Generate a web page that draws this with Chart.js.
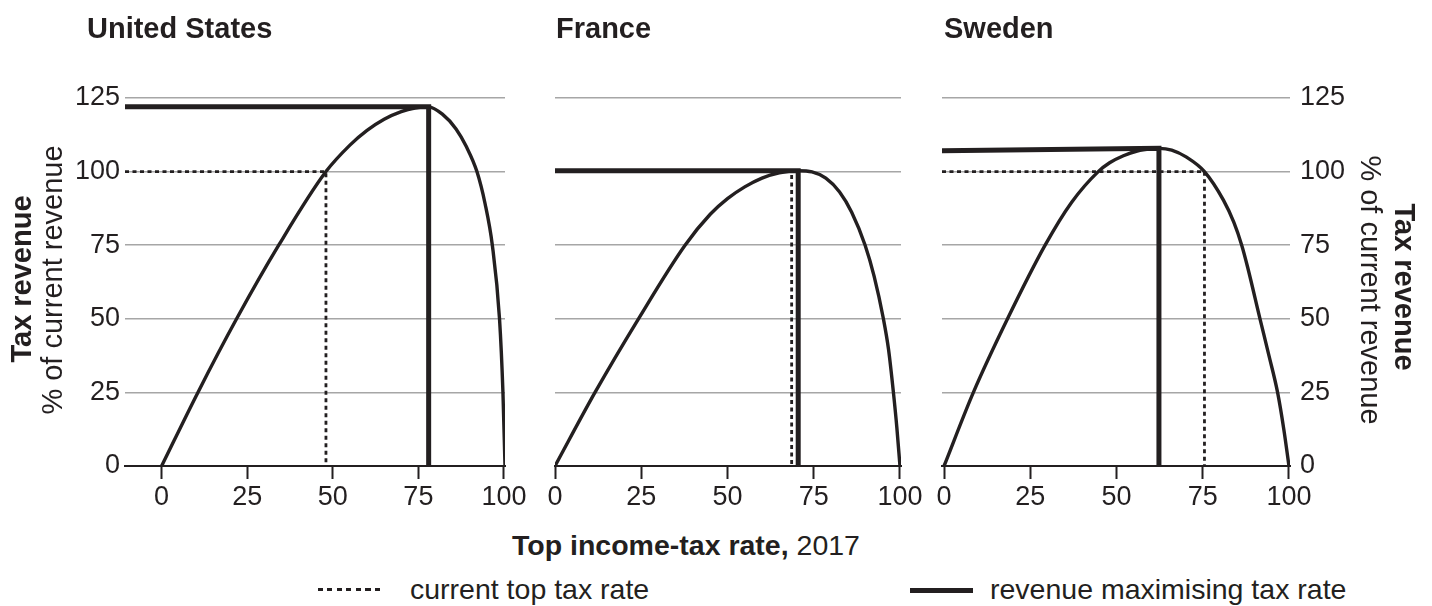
<!DOCTYPE html>
<html><head><meta charset="utf-8">
<script src="https://cdn.jsdelivr.net/npm/chart.js@4.4.1/dist/chart.umd.min.js"></script>
<style>
html,body{margin:0;padding:0;background:#fff;}
body{width:1432px;height:606px;position:relative;overflow:hidden;font-family:"Liberation Sans",Arial,sans-serif;color:#231f20;}
canvas{position:absolute;top:0;}
.t{position:absolute;white-space:nowrap;line-height:1;}
.b{font-weight:bold;}
.rot{position:absolute;white-space:nowrap;line-height:1;font-size:29px;}
</style></head><body>
<canvas id="us" width="540" height="526" style="left:0px"></canvas>
<canvas id="fr" width="400" height="526" style="left:540px"></canvas>
<canvas id="se" width="502" height="526" style="left:930px"></canvas>

<div class="t b" style="left:87px;top:14px;font-size:29px;">United States</div>
<div class="t b" style="left:556px;top:14px;font-size:29px;">France</div>
<div class="t b" style="left:944px;top:14px;font-size:29px;">Sweden</div>

<div class="rot b" style="left:21px;top:279px;transform:translate(-50%,-50%) rotate(-90deg);">Tax revenue</div>
<div class="rot" style="left:52px;top:280px;transform:translate(-50%,-50%) rotate(-90deg);">% of current revenue</div>
<div class="rot b" style="left:1404px;top:287px;transform:translate(-50%,-50%) rotate(90deg);">Tax revenue</div>
<div class="rot" style="left:1370px;top:290px;transform:translate(-50%,-50%) rotate(90deg);">% of current revenue</div>

<div class="t" style="left:512px;top:531px;font-size:28.5px;"><b>Top income-tax rate,</b> 2017</div>

<div style="position:absolute;left:318px;top:588px;width:64px;height:3px;background:repeating-linear-gradient(to right,#231f20 0px,#231f20 5px,transparent 5px,transparent 9.5px);"></div>
<div class="t" style="left:410px;top:575px;font-size:28.5px;">current top tax rate</div>
<div style="position:absolute;left:910px;top:588px;width:63px;height:5px;background:#231f20;"></div>
<div class="t" style="left:990px;top:575px;font-size:28.5px;">revenue maximising tax rate</div>

<script>
// ---- data ----
const xTicks = [0, 25, 50, 75, 100];
const yTicks = [0, 25, 50, 75, 100, 125];

const usRate    = [0, 10.6, 21.9, 34.2, 48, 55, 60, 65, 70, 74, 78, 82, 86, 89, 92.1, 94.5, 96.6, 98.7, 99.7, 100.3];
const usRevenue = [0, 25, 50, 75, 100, 109, 114, 117.8, 120.4, 121.6, 122, 119.5, 114.5, 108.5, 100, 89, 75, 50, 25, 0];
const usCurrentRate = 48;
const usMaxRate = 78;
const usMaxRevenue = [122, 122];

const frRate    = [0, 11.6, 24.2, 37.7, 45, 50, 55, 60, 65, 70.5, 74.5, 78.5, 82.5, 86, 89.9, 92.5, 95.2, 96.7, 98.1, 99.1, 100];
const frRevenue = [0, 25, 50, 75, 85.5, 90.8, 94.8, 97.8, 99.6, 100.3, 99.9, 97.8, 93.1, 86.2, 75, 64.5, 50, 39.5, 25, 13, 0];
const frCurrentRate = 68.6;
const frMaxRate = 70.5;
const frMaxRevenue = [100.3, 100.3];

const seRate    = [0, 8.5, 18.4, 29.3, 37, 44.7, 48, 52, 56, 60, 62.3, 66, 70.3, 75.5, 81, 84, 86.3, 88, 91.6, 94.2, 96.7, 98.5, 100];
const seRevenue = [0, 25, 50, 75, 89.6, 100, 103, 105.4, 107, 107.75, 107.9, 107.3, 104.9, 100, 90.3, 82.8, 75, 67.6, 50, 37.5, 25, 12.5, 0];
const seCurrentRate = 75.5;
const seMaxRate = 62.3;
const seMaxRevenue = [107.1, 107.9];

const currentRevenue = 100;

// ---- drawing ----
const INK = '#231f20';
const GRID = '#a6a6a6';
const FONT = {family: '"Liberation Sans", Arial, sans-serif', size: 27};

function makeChart(id, cfg) {
  const curve = cfg.rate.map((x, i) => ({x: x, y: cfg.revenue[i]}));
  const maxLine = [{x: cfg.xMin, y: cfg.maxRev[0]}, {x: cfg.maxRate, y: cfg.maxRev[1]}, {x: cfg.maxRate, y: 0}];
  const curLine = [{x: cfg.xMin, y: currentRevenue}, {x: cfg.current, y: currentRevenue}, {x: cfg.current, y: 0}];
  const yScale = {
    type: 'linear', min: 0, max: 125, position: cfg.yPos,
    afterBuildTicks: s => { s.ticks = yTicks.map(v => ({value: v})); },
    afterFit: s => { s.width = cfg.yWidth; s.paddingTop = 0; s.paddingBottom = 0; },
    grid: {
      drawTicks: false,
      color: c => (c.tick && c.tick.value === 0) ? 'rgba(0,0,0,0)' : GRID,
      lineWidth: 1.5
    },
    border: {display: false},
    ticks: {display: cfg.yLabels, font: FONT, color: INK, padding: cfg.yPad}
  };
  new Chart(document.getElementById(id), {
    type: 'line',
    data: {datasets: [
      {data: maxLine, borderColor: INK, borderWidth: 5, pointRadius: 0, tension: 0,
       borderJoinStyle: 'miter', borderCapStyle: 'butt', order: 0},
      {data: curve, borderColor: INK, borderWidth: 3.4, pointRadius: 0,
       cubicInterpolationMode: 'monotone', order: 1},
      {data: curLine, borderColor: INK, borderWidth: 2.8, pointRadius: 0, tension: 0,
       borderDash: [4, 3.5], order: 2}
    ]},
    options: {
      animation: false, responsive: false, events: [],
      layout: {padding: cfg.padding},
      plugins: {legend: {display: false}, tooltip: {enabled: false}, title: {display: false}},
      scales: {
        x: {
          type: 'linear', min: cfg.xMin, max: cfg.xMax,
          afterBuildTicks: s => { s.ticks = xTicks.map(v => ({value: v})); },
          afterFit: s => { s.height = 60; s.paddingLeft = 0; s.paddingRight = 0; },
          grid: {drawOnChartArea: false, drawTicks: true, tickLength: 13, tickWidth: 2, tickColor: INK},
          border: {display: true, color: INK, width: 2},
          ticks: {font: FONT, color: INK, padding: 2, maxRotation: 0, autoSkip: false}
        },
        y: yScale
      }
    }
  });
}

makeChart('us', {rate: usRate, revenue: usRevenue, current: usCurrentRate, maxRate: usMaxRate, maxRev: usMaxRevenue,
  xMin: -10.7, xMax: 100.3, yPos: 'left', yWidth: 125, yLabels: true, yPad: 5,
  padding: {top: 98, left: 0, right: 35, bottom: 0}});
makeChart('fr', {rate: frRate, revenue: frRevenue, current: frCurrentRate, maxRate: frMaxRate, maxRev: frMaxRevenue,
  xMin: 0, xMax: 100.3, yPos: 'left', yWidth: 0, yLabels: false, yPad: 0,
  padding: {top: 98, left: 15, right: 39, bottom: 0}});
makeChart('se', {rate: seRate, revenue: seRevenue, current: seCurrentRate, maxRate: seMaxRate, maxRev: seMaxRevenue,
  xMin: -0.6, xMax: 100.3, yPos: 'right', yWidth: 142, yLabels: true, yPad: 10,
  padding: {top: 98, left: 12, right: 0, bottom: 0}});
</script>
</body></html>
